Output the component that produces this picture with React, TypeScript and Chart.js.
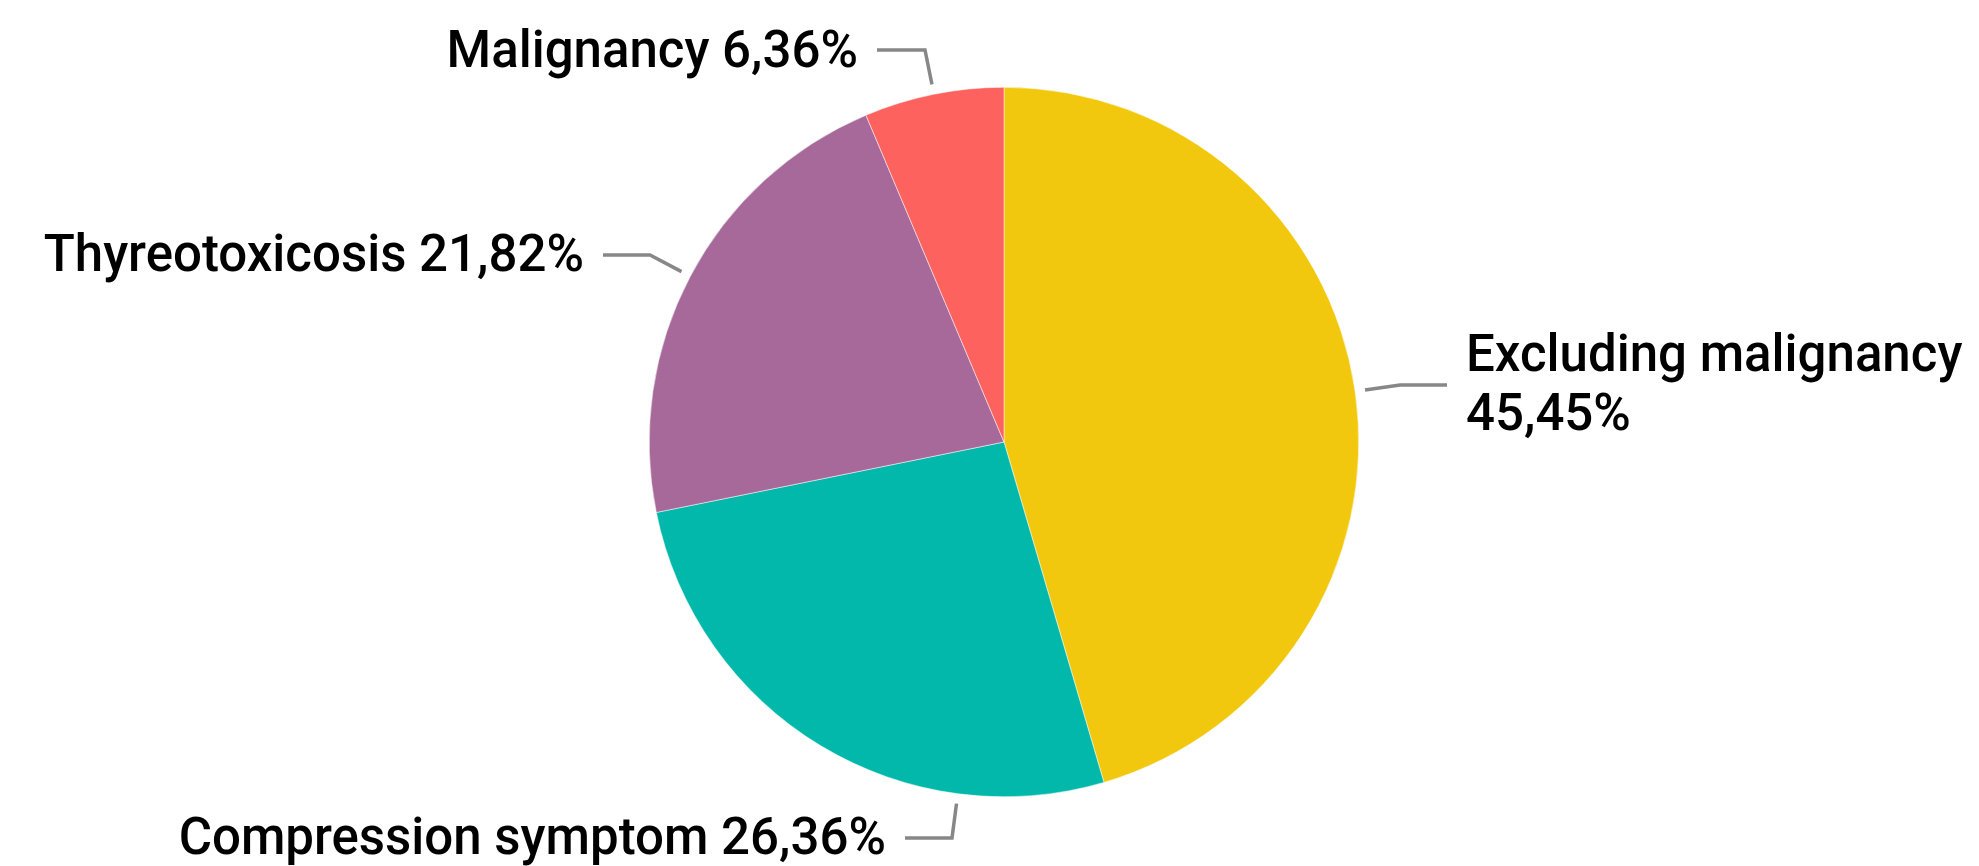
import React, { useEffect, useRef } from "react";
import { Chart, registerables } from "chart.js";

Chart.register(...registerables);

// ---- data ----
const categories = ["Excluding malignancy", "Compression symptom", "Thyreotoxicosis", "Malignancy"];
const percentValues = [45.45, 26.36, 21.82, 6.36];
const sliceColors = ["#F2C80F", "#01B8AA", "#A66999", "#FD625E"];

// label layout: offsets (px) relative to the pie centre
const labelElbowDX = [396, -52, -354, -79];
const labelElbowDY = [-57, 396, -187, -392];
const labelEndDX = [443, -99, -401, -127];
const labelTextDX = [462, -118, -420, -146];
const labelAlign: CanvasTextAlign[] = ["left", "right", "right", "right"];
const labelBaselineDY = [[-71, -12], [412], [-171], [-375]];

const FONT = "500 51px Roboto";

function fmt(v: number) {
  return v.toFixed(2).replace(".", ",") + "%";
}

const leaderPlugin = {
  id: "leaderLabels",
  afterDraw(chart: any) {
    const ctx: CanvasRenderingContext2D = chart.ctx;
    const meta = chart.getDatasetMeta(0);
    ctx.save();
    meta.data.forEach((arc: any, i: number) => {
      const p = arc.getProps(["x", "y", "startAngle", "endAngle", "outerRadius"], true);
      const cx = p.x, cy = p.y;
      const ex = cx + labelElbowDX[i];
      const ey = cy + labelElbowDY[i];
      let a = Math.atan2(ey - cy, ex - cx);
      while (a < p.startAngle) a += Math.PI * 2;
      while (a > p.startAngle + Math.PI * 2) a -= Math.PI * 2;
      const margin = 0.02;
      if (a > p.endAngle) {
        const dEnd = a - p.endAngle;
        const dStart = p.startAngle + Math.PI * 2 - a;
        a = dEnd < dStart ? p.endAngle - margin : p.startAngle + margin;
      }
      const r = p.outerRadius + 10;
      const sx = cx + Math.cos(a) * r;
      const sy = cy + Math.sin(a) * r;
      ctx.beginPath();
      ctx.moveTo(sx, sy);
      ctx.lineTo(ex, ey);
      ctx.lineTo(cx + labelEndDX[i], ey);
      ctx.strokeStyle = "#878787";
      ctx.lineWidth = 3.5;
      ctx.lineJoin = "miter";
      ctx.stroke();

      ctx.fillStyle = "#000000";
      ctx.font = FONT;
      ctx.textAlign = labelAlign[i];
      ctx.textBaseline = "alphabetic";
      const baselines = labelBaselineDY[i];
      const lines = baselines.length > 1
        ? [categories[i], fmt(percentValues[i])]
        : [categories[i] + " " + fmt(percentValues[i])];
      lines.forEach((t, k) => {
        ctx.fillText(t, cx + labelTextDX[i], cy + baselines[k]);
      });
    });
    ctx.restore();
  },
};

export default function App() {
  const canvasRef = useRef<HTMLCanvasElement | null>(null);

  useEffect(() => {
    document.body.style.margin = "0";
    let chart: Chart | null = null;
    let cancelled = false;
    const make = () => {
      if (cancelled || !canvasRef.current) return;
      chart = new Chart(canvasRef.current, {
        type: "pie",
        data: {
          labels: categories,
          datasets: [
            {
              data: percentValues,
              backgroundColor: sliceColors,
              borderColor: "#FFFFFF",
              borderWidth: 0.5,
            },
          ],
        },
        options: {
          responsive: false,
          maintainAspectRatio: false,
          devicePixelRatio: 1,
          animation: false,
          layout: { padding: { left: 649, right: 620, top: 87, bottom: 69 } },
          plugins: {
            legend: { display: false },
            tooltip: { enabled: false },
          },
        },
        plugins: [leaderPlugin],
      });
    };
    const fonts: any = (document as any).fonts;
    if (fonts && fonts.load) {
      fonts.load(FONT).then(make, make);
    } else {
      make();
    }
    return () => {
      cancelled = true;
      if (chart) chart.destroy();
    };
  }, []);

  return (
    <div style={{ width: 1979, height: 866, background: "#fff" }}>
      <canvas ref={canvasRef} width={1979} height={866} style={{ display: "block" }} />
    </div>
  );
}
